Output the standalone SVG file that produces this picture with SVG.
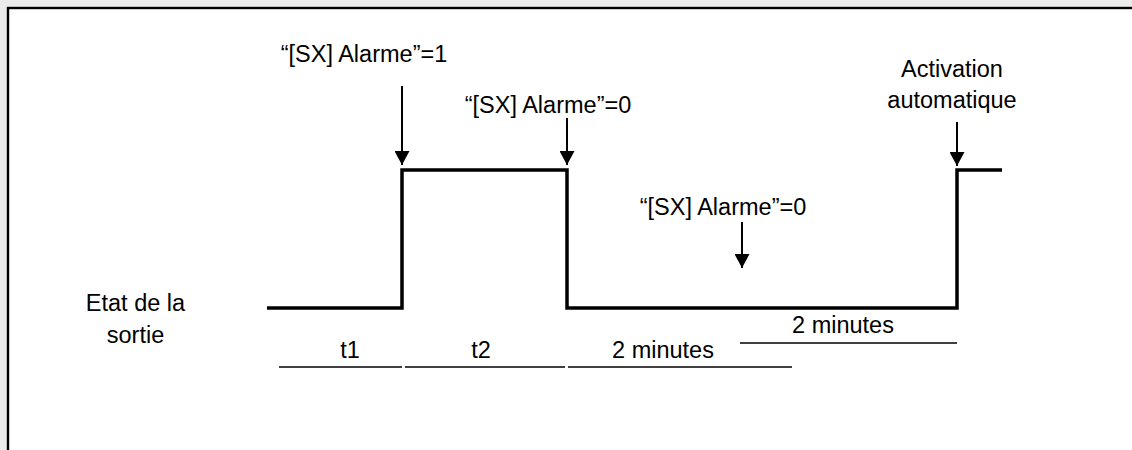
<svg xmlns="http://www.w3.org/2000/svg" width="1132" height="450" viewBox="0 0 1132 450">
  <defs>
    <style>
      .lbl { font-family: "Liberation Sans", Arial, sans-serif; font-size: 23.5px; fill: #000; text-anchor: middle; }
      .sig { fill: none; stroke: #000; stroke-width: 3.5; stroke-linejoin: miter; stroke-linecap: butt; }
      .arr { stroke: #000; stroke-width: 2; fill: none; }
      .tl { stroke: #000; stroke-width: 1.3; }
    </style>
    <marker id="ah" viewBox="0 0 14 15" refX="14" refY="7.5" markerWidth="14" markerHeight="15" markerUnits="userSpaceOnUse" orient="auto">
      <path d="M0,0 L14,7.5 L0,15 Z" fill="#000"/>
    </marker>
  </defs>
  <rect x="0" y="0" width="1132" height="450" fill="#ebebeb"/>
  <rect x="8" y="8" width="1140" height="460" fill="#fff" stroke="#000" stroke-width="2.4"/>

  <g id="signal">
    <polyline class="sig" points="267,308 402,308 402,170 567,170 567,308 957,308 957,170 1002,170"/>
  </g>

  <g id="label-etat">
    <text class="lbl" x="135.5" y="311">Etat de la</text>
    <text class="lbl" x="135.5" y="343">sortie</text>
  </g>
  <g id="event-alarme-1">
    <text class="lbl" x="364" y="62">“[SX] Alarme”=1</text>
  </g>
  <g id="event-alarme-0a">
    <text class="lbl" x="548" y="113">“[SX] Alarme”=0</text>
  </g>
  <g id="event-alarme-0b">
    <text class="lbl" x="723" y="215">“[SX] Alarme”=0</text>
  </g>
  <g id="event-activation">
    <text class="lbl" x="952" y="77">Activation</text>
    <text class="lbl" x="952" y="108">automatique</text>
  </g>

  <g id="timeline">
    <line class="tl" x1="279" y1="367" x2="402" y2="367"/>
    <line class="tl" x1="405" y1="367" x2="565" y2="367"/>
    <line class="tl" x1="568" y1="367" x2="792" y2="367"/>
    <line class="tl" x1="740" y1="343" x2="957" y2="343"/>
    <text class="lbl" x="350" y="358">t1</text>
    <text class="lbl" x="481" y="358">t2</text>
    <text class="lbl" x="663" y="358">2 minutes</text>
    <text class="lbl" x="843" y="333">2 minutes</text>
  </g>

  <g id="connectors">
    <line class="arr" x1="402" y1="86" x2="402" y2="165" marker-end="url(#ah)"/>
    <line class="arr" x1="567" y1="118" x2="567" y2="165" marker-end="url(#ah)"/>
    <line class="arr" x1="742" y1="222" x2="742" y2="268" marker-end="url(#ah)"/>
    <line class="arr" x1="957" y1="122" x2="957" y2="166" marker-end="url(#ah)"/>
  </g>
</svg>
